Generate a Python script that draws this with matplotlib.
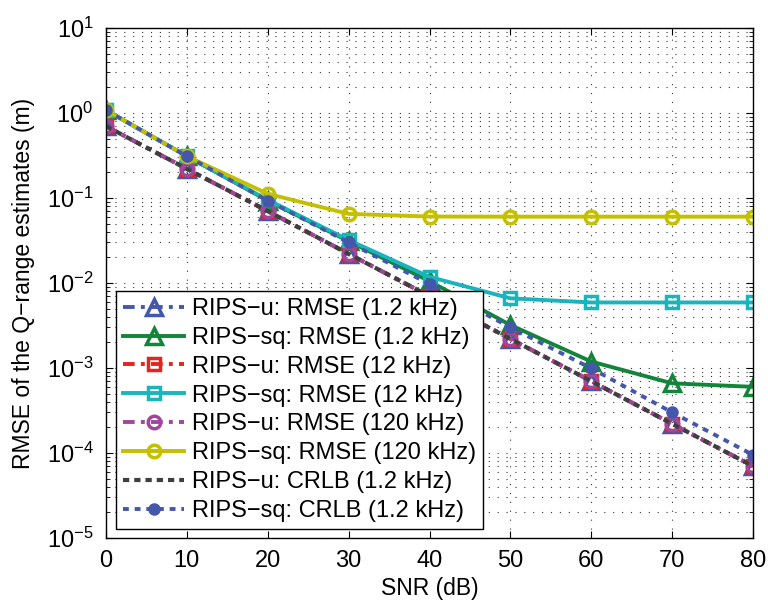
import numpy as np
import matplotlib
matplotlib.use('Agg')
import matplotlib.pyplot as plt
from matplotlib.ticker import LogLocator, NullFormatter, NullLocator

plt.rcParams['font.family'] = ['Liberation Sans', 'DejaVu Sans']
plt.rcParams['mathtext.fontset'] = 'custom'
plt.rcParams['mathtext.rm'] = 'Liberation Sans'
plt.rcParams['mathtext.it'] = 'Liberation Sans:italic'

snr_db = [0, 10, 20, 30, 40, 50, 60, 70, 80]

# RMSE of the unsquared / squared RIPS estimators at three carrier spacings
u_rmse_1k2 = [0.70, 0.22, 0.070, 0.022, 0.0070, 0.0022, 0.00070, 0.00022, 0.000070]
sq_rmse_1k2 = [1.08, 0.31, 0.093, 0.031, 0.0105, 0.0032, 0.00119, 0.00066, 0.00060]
u_rmse_12k = [0.70, 0.22, 0.070, 0.022, 0.0070, 0.0022, 0.00070, 0.00022, 0.000070]
sq_rmse_12k = [1.08, 0.31, 0.095, 0.032, 0.0118, 0.0066, 0.0059, 0.0059, 0.0059]
u_rmse_120k = [0.70, 0.22, 0.070, 0.022, 0.0070, 0.0022, 0.00070, 0.00022, 0.000070]
sq_rmse_120k = [1.08, 0.31, 0.112, 0.065, 0.0605, 0.0603, 0.0603, 0.0603, 0.0603]
u_crlb_1k2 = [0.70, 0.22, 0.070, 0.022, 0.0070, 0.0022, 0.00070, 0.00022, 0.000070]
sq_crlb_1k2 = [1.08, 0.31, 0.093, 0.030, 0.0097, 0.0030, 0.00099, 0.00030, 0.000095]

c_blue = '#4457ab'
c_green = '#13843a'
c_red = '#e8231e'
c_cyan = '#1ab4bc'
c_purple = '#a0479c'
c_yellow = '#c4c000'
c_gray = '#3f3f3f'

dash_dot = (0, (3, 1.6, 1, 1.6))
fig = plt.figure(figsize=(7.68, 6.07), dpi=100)
ax = fig.add_axes([0.138, 0.1137, 0.8425, 0.8402])

ax.plot(snr_db, u_rmse_1k2, linestyle=dash_dot, color=c_blue, lw=2.8, marker='^', ms=11,
        mfc='none', mew=2.5, label='RIPS−u: RMSE (1.2 kHz)')
ax.plot(snr_db, sq_rmse_1k2, linestyle='-', color=c_green, lw=2.8, marker='^', ms=11,
        mfc='none', mew=2.5, label='RIPS−sq: RMSE (1.2 kHz)')
ax.plot(snr_db, u_rmse_12k, linestyle=dash_dot, color=c_red, lw=2.8, marker='s', ms=8,
        mfc='none', mew=2.5, label='RIPS−u: RMSE (12 kHz)')
ax.plot(snr_db, sq_rmse_12k, linestyle='-', color=c_cyan, lw=2.8, marker='s', ms=8,
        mfc='none', mew=2.5, label='RIPS−sq: RMSE (12 kHz)')
ax.plot(snr_db, u_rmse_120k, linestyle=dash_dot, color=c_purple, lw=2.8, marker='o', ms=9,
        mfc='none', mew=2.5, label='RIPS−u: RMSE (120 kHz)')
ax.plot(snr_db, sq_rmse_120k, linestyle='-', color=c_yellow, lw=2.8, marker='o', ms=9,
        mfc='none', mew=2.5, label='RIPS−sq: RMSE (120 kHz)')
ax.plot(snr_db, u_crlb_1k2, linestyle=(0, (1.5, 1.2)), color=c_gray, lw=3,
        label='RIPS−u: CRLB (1.2 kHz)')
ax.plot(snr_db, sq_crlb_1k2, linestyle=(0, (1.5, 1.5)), color=c_blue, lw=2.8, marker='o',
        ms=8, mfc=c_blue, mec=c_blue, label='RIPS−sq: CRLB (1.2 kHz)')

ax.set_yscale('log')
ax.set_xlim(0, 80)
ax.set_ylim(1e-5, 1e1)
ax.set_xticks(snr_db)
ax.xaxis.set_minor_locator(NullLocator())
ax.yaxis.set_major_locator(LogLocator(base=10, numticks=10))
ax.yaxis.set_minor_locator(LogLocator(base=10, subs=np.arange(2, 10), numticks=20))
ax.yaxis.set_minor_formatter(NullFormatter())

ax.grid(True, which='major', linestyle=(0, (1, 7)), color='#333333', lw=0.8)
ax.grid(True, which='minor', axis='y', linestyle=(0, (1, 7)), color='#333333', lw=0.8)

ax.tick_params(which='both', direction='in', top=True, right=True, labelsize=17, pad=9)
ax.tick_params(which='major', length=5)
ax.tick_params(which='minor', length=3)
for sp in ax.spines.values():
    sp.set_linewidth(1.0)

ax.set_xlabel('SNR (dB)', fontsize=16.5, labelpad=3)
ax.set_ylabel('RMSE of the Q−range estimates (m)', fontsize=16.5, labelpad=8)

leg = ax.legend(loc='lower left', bbox_to_anchor=(0.0155, 0.0176), fontsize=17,
                handlelength=2.6, handletextpad=0.3, labelspacing=0.29,
                borderpad=0.3, borderaxespad=0, fancybox=False, framealpha=1,
                edgecolor='black')
leg.get_frame().set_linewidth(1.0)

fig.savefig('out.png', dpi=100)
